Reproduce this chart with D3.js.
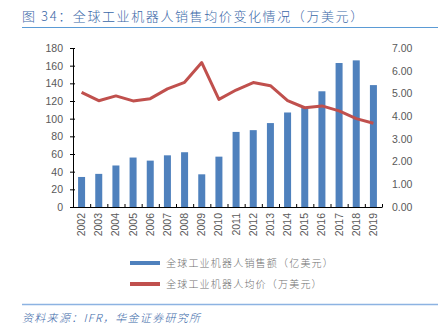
<!DOCTYPE html>
<html>
<head>
<meta charset="utf-8">
<script src="https://cdn.jsdelivr.net/npm/d3@7"></script>
<style>
  body { margin: 0; background: #fff; }
  svg { display: block; font-family: "Liberation Sans", Arial, "Noto Sans CJK SC", sans-serif; }
</style>
</head>
<body>
<div id="chart"></div>
<script>
// sales (亿美元) and average price (万美元)
const years = ['2002','2003','2004','2005','2006','2007','2008','2009','2010',
  '2011','2012','2013','2014','2015','2016','2017','2018','2019'];
const salesValues = [34, 37.5, 47, 56, 52.5, 58.5, 62, 37, 57, 85, 87, 95, 107, 112, 131, 163, 166, 138];
const priceValues = [5.05, 4.68, 4.89, 4.67, 4.77, 5.2, 5.49, 6.36, 4.74, 5.15, 5.48, 5.34, 4.68, 4.37, 4.45, 4.23, 3.89, 3.69];
const leftTicks = [0, 20, 40, 60, 80, 100, 120, 140, 160, 180];
const rightTicks = [0, 1, 2, 3, 4, 5, 6, 7];
const legendLabels = ['全球工业机器人销售额（亿美元）', '全球工业机器人均价（万美元）'];

const W = 438, H = 333;
const barColor = '#4f81bd', lineColor = '#c0504d', textColor = '#595959';
const cjk = '"Noto Sans CJK SC", sans-serif';

const svg = d3.select('#chart').append('svg')
  .attr('width', W).attr('height', H);

// title + rules
svg.append('text')
  .attr('x', 22).attr('y', 21)
  .attr('fill', '#3a68a8')
  .style('font-size', '13px')
  .style('font-weight', 300)
  .style('letter-spacing', '1.6px')
  .style('font-family', cjk)
  .text('图 34：全球工业机器人销售均价变化情况（万美元）');
svg.append('line').attr('x1', 22).attr('x2', W).attr('y1', 27.5).attr('y2', 27.5)
  .attr('stroke', '#5b9bd5').attr('stroke-width', 1.2);
svg.append('line').attr('x1', 22).attr('x2', W).attr('y1', 304.5).attr('y2', 304.5)
  .attr('stroke', '#8db3e2').attr('stroke-width', 1.5);
svg.append('text')
  .attr('x', 22).attr('y', 322)
  .attr('fill', '#3a68a8')
  .style('font-size', '11px')
  .style('font-style', 'italic')
  .style('font-weight', 300)
  .style('letter-spacing', '1.3px')
  .style('font-family', cjk)
  .text('资料来源：IFR，华金证券研究所');

const plot = { left: 73, right: 382, top: 48, bottom: 207 };

const xOuter = d3.scaleBand().domain(years).range([plot.left, plot.right]);
const yL = d3.scaleLinear().domain([0, 180]).range([plot.bottom, plot.top]);
const yR = d3.scaleLinear().domain([0, 7]).range([plot.bottom, plot.top]);

// bars
svg.append('g').selectAll('rect')
  .data(years)
  .enter().append('rect')
  .attr('x', (d) => xOuter(d) + xOuter.bandwidth() / 2 - 3.5)
  .attr('width', 7)
  .attr('y', (d, i) => yL(salesValues[i]))
  .attr('height', (d, i) => plot.bottom - yL(salesValues[i]))
  .attr('fill', barColor);

// line
const line = d3.line()
  .x((d, i) => xOuter(years[i]) + xOuter.bandwidth() / 2)
  .y((d) => yR(d));
svg.append('path')
  .datum(priceValues)
  .attr('d', line)
  .attr('fill', 'none')
  .attr('stroke', lineColor)
  .attr('stroke-width', 3)
  .attr('stroke-linejoin', 'round');

// left axis
const leftAxis = svg.append('g')
  .attr('transform', `translate(${plot.left},0)`)
  .call(d3.axisLeft(yL).tickValues(leftTicks).tickSize(3).tickPadding(7));
leftAxis.select('.domain').attr('stroke', '#000').attr('d', `M0.5,${plot.top}V${plot.bottom}`);
leftAxis.selectAll('.tick line').attr('stroke', '#000').attr('x1', 2);
leftAxis.selectAll('text').attr('fill', textColor).style('font-size', '10.5px');

// right axis (labels only)
const rightAxis = svg.append('g')
  .attr('transform', `translate(${plot.right},0)`)
  .call(d3.axisRight(yR).tickValues(rightTicks).tickSize(0).tickPadding(10).tickFormat(d3.format('.2f')));
rightAxis.select('.domain').remove();
rightAxis.selectAll('text').attr('fill', textColor).style('font-size', '10.5px');

// bottom axis
const xAxis = svg.append('g').attr('transform', `translate(0,${plot.bottom})`);
xAxis.append('line')
  .attr('x1', plot.left).attr('x2', plot.right)
  .attr('y1', 0.5).attr('y2', 0.5)
  .attr('stroke', '#000').attr('stroke-width', 1.2);
const boundaries = years.map((d) => xOuter(d)).concat([plot.right]);
xAxis.selectAll('.xtick')
  .data(boundaries)
  .enter().append('line')
  .attr('x1', (d) => d + 0.5).attr('x2', (d) => d + 0.5)
  .attr('y1', 0.5).attr('y2', -3)
  .attr('stroke', '#000');
xAxis.selectAll('.xlabel')
  .data(years)
  .enter().append('text')
  .attr('transform', (d) => `translate(${xOuter(d) + xOuter.bandwidth() / 2 + 3.5},6) rotate(-90)`)
  .attr('text-anchor', 'end')
  .attr('fill', textColor)
  .style('font-size', '10.5px')
  .text((d) => d);

// legend
const legend = svg.append('g');
[barColor, lineColor].forEach((c, i) => {
  const yy = 263 + i * 21;
  legend.append('rect')
    .attr('x', 130).attr('y', yy - 2).attr('width', 30).attr('height', 4)
    .attr('fill', c);
  legend.append('text')
    .attr('x', 166).attr('y', yy + 4)
    .attr('fill', '#707070')
    .style('font-size', '10px')
    .style('font-weight', 300)
    .style('font-family', cjk)
    .style('letter-spacing', '1.2px')
    .text(legendLabels[i]);
});
</script>
</body>
</html>
